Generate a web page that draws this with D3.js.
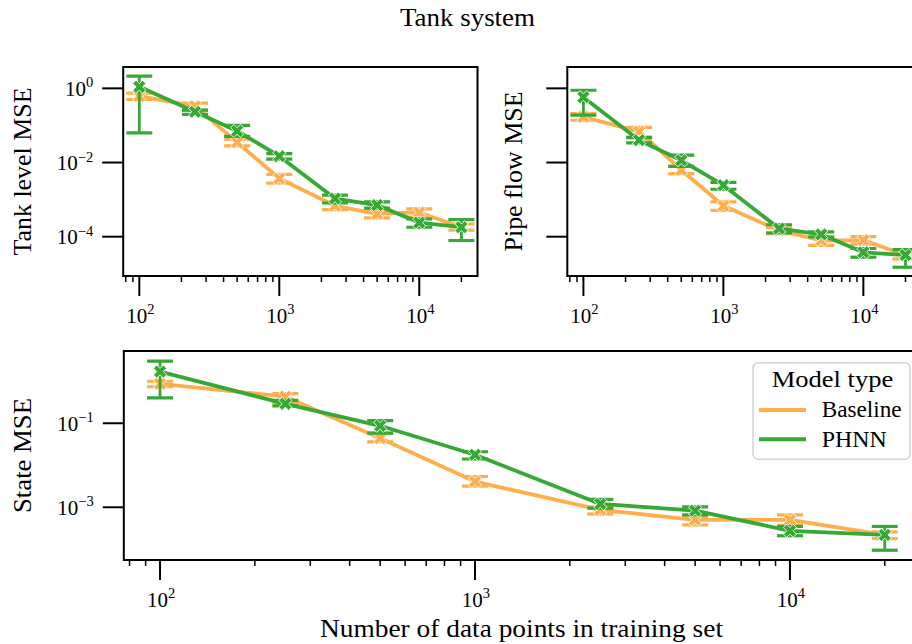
<!DOCTYPE html>
<html><head><meta charset="utf-8">
<script src="https://cdn.jsdelivr.net/npm/d3@7"></script>
<style>
body{margin:0;background:#fff;overflow:hidden;}
svg{display:block;}
text{font-family:"Liberation Serif","DejaVu Serif",serif;fill:#000;}
</style>
</head><body>
<svg id="chart" width="912" height="644"></svg>
<script>
// ---------------- DATA ----------------
const xValues = [100, 250, 500, 1000, 2500, 5000, 10000, 20000];
const seriesNames = ["Baseline", "PHNN"];
const seriesColors = ["#ffae4c", "#36a935"];

const tankBaselineMean = [0.62, 0.33, 0.035, 0.0037, 0.00068, 0.00041, 0.00045, 0.00018];
const tankBaselineLow  = [0.50, 0.26, 0.028, 0.0028, 0.00054, 0.00032, 0.00034, 0.00015];
const tankBaselineHigh = [0.74, 0.40, 0.043, 0.0048, 0.00087, 0.00051, 0.00056, 0.00022];
const tankPhnnMean = [1.1, 0.234, 0.071, 0.0148, 0.00107, 0.00071, 0.00024, 0.00018];
const tankPhnnLow  = [0.063, 0.20, 0.051, 0.0123, 0.00081, 0.00059, 0.00018, 0.000079];
const tankPhnnHigh = [2.15, 0.26, 0.10, 0.0174, 0.00132, 0.00087, 0.00030, 0.00029];

const pipeBaselineMean = [0.17, 0.068, 0.0063, 0.00068, 0.000148, 0.000079, 0.00008, 0.000032];
const pipeBaselineLow  = [0.138, 0.049, 0.005, 0.00051, 0.00012, 0.000058, 0.000063, 0.000025];
const pipeBaselineHigh = [0.21, 0.089, 0.0079, 0.00087, 0.000174, 0.000098, 0.0001, 0.000038];
const pipePhnnMean = [0.58, 0.040, 0.0115, 0.00245, 0.000166, 0.000115, 0.000038, 0.000032];
const pipePhnnLow  = [0.19, 0.034, 0.0079, 0.0019, 0.000126, 0.000098, 0.000028, 0.000015];
const pipePhnnHigh = [0.89, 0.047, 0.0158, 0.0029, 0.00021, 0.000135, 0.000048, 0.000045];

const stateBaselineMean = [0.87, 0.43, 0.044, 0.0041, 0.00087, 0.0005, 0.0005, 0.00022];
const stateBaselineLow  = [0.74, 0.30, 0.036, 0.0032, 0.00069, 0.00038, 0.00037, 0.00018];
const stateBaselineHigh = [1.0, 0.51, 0.058, 0.0054, 0.00102, 0.0006, 0.00066, 0.00026];
const statePhnnMean = [1.7, 0.29, 0.087, 0.0178, 0.0012, 0.00083, 0.000275, 0.00022];
const statePhnnLow  = [0.4, 0.26, 0.058, 0.0141, 0.00095, 0.00066, 0.00021, 0.000095];
const statePhnnHigh = [3.0, 0.35, 0.115, 0.021, 0.00155, 0.00102, 0.00035, 0.00035];

const xTickValues = [100, 1000, 10000];
const topYTickValues = [1, 1e-2, 1e-4];
const bottomYTickValues = [1e-1, 1e-3];

const titleText = "Tank system";
const xLabelText = "Number of data points in training set";
const legendTitle = "Model type";

// ---------------- DRAW ----------------
const svg = d3.select("#chart");
svg.append("rect").attr("width", 912).attr("height", 644).attr("fill", "#fff");

const panels = [
  {x0: 123.2, x1: 477.5, y0: 67, y1: 276, yDomain: [Math.pow(10, -5.06), Math.pow(10, 0.576)],
   yTicks: topYTickValues, yTickLabels: true, ylabel: "Tank level MSE", ylabelX: 31, ylabelLen: 168,
   data: [[tankBaselineMean, tankBaselineLow, tankBaselineHigh], [tankPhnnMean, tankPhnnLow, tankPhnnHigh]]},
  {x0: 567.3, x1: 921.6, y0: 67, y1: 276, yDomain: [Math.pow(10, -5.06), Math.pow(10, 0.576)],
   yTicks: topYTickValues, yTickLabels: false, ylabel: "Pipe flow MSE", ylabelX: 522, ylabelLen: 160,
   data: [[pipeBaselineMean, pipeBaselineLow, pipeBaselineHigh], [pipePhnnMean, pipePhnnLow, pipePhnnHigh]]},
  {x0: 123.8, x1: 921, y0: 351, y1: 560, yDomain: [Math.pow(10, -4.255), Math.pow(10, 0.72)],
   yTicks: bottomYTickValues, yTickLabels: true, ylabel: "State MSE", ylabelX: 31, ylabelLen: 115,
   data: [[stateBaselineMean, stateBaselineLow, stateBaselineHigh], [statePhnnMean, statePhnnLow, statePhnnHigh]]}
];

const xDomain = [Math.pow(10, 2 - 0.05 * Math.log10(200)), Math.pow(10, Math.log10(20000) + 0.05 * Math.log10(200))];

function powLabel(sel, v) {
  const e = Math.round(Math.log10(v));
  sel.append("tspan").text("10").attr("font-size", 21);
  sel.append("tspan").text(e < 0 ? "\u2212" + (-e) : String(e)).attr("font-size", 14.5).attr("dy", -8.5);
}

function xMarker(g, cx, cy, color) {
  const a = 2.3, L = 7;
  const pts = [[-a,-L],[a,-L],[a,-a],[L,-a],[L,a],[a,a],[a,L],[-a,L],[-a,a],[-L,a],[-L,-a],[-a,-a]];
  g.append("path")
    .attr("d", "M" + pts.map(p => p.join(",")).join("L") + "Z")
    .attr("transform", `translate(${cx},${cy}) rotate(45)`)
    .attr("fill", color).attr("stroke", "#fff").attr("stroke-width", 0.8);
}

panels.forEach((p, pi) => {
  const x = d3.scaleLog().domain(xDomain).range([p.x0, p.x1]);
  const y = d3.scaleLog().domain(p.yDomain).range([p.y1, p.y0]);
  const clipId = "clip" + pi;
  svg.append("clipPath").attr("id", clipId).append("rect")
    .attr("x", p.x0).attr("y", p.y0).attr("width", p.x1 - p.x0).attr("height", p.y1 - p.y0);
  const g = svg.append("g").attr("clip-path", `url(#${clipId})`);

  p.data.forEach((s, si) => {
    const [mean, lo, hi] = s;
    const color = seriesColors[si];
    const line = d3.line().x((d, i) => x(xValues[i])).y(d => y(d));
    g.append("path").attr("d", line(mean)).attr("fill", "none")
      .attr("stroke", color).attr("stroke-width", 3.8).attr("stroke-linejoin", "round");
    xValues.forEach((xv, i) => {
      const cx = x(xv);
      g.append("line").attr("x1", cx).attr("x2", cx).attr("y1", y(lo[i])).attr("y2", y(hi[i]))
        .attr("stroke", color).attr("stroke-width", 2.8);
      [lo[i], hi[i]].forEach(v => {
        g.append("line").attr("x1", cx - 13).attr("x2", cx + 13).attr("y1", y(v)).attr("y2", y(v))
          .attr("stroke", color).attr("stroke-width", 3.2);
      });
    });
    xValues.forEach((xv, i) => xMarker(g, x(xv), y(mean[i]), color));
  });

  // frame
  svg.append("rect").attr("x", p.x0).attr("y", p.y0).attr("width", p.x1 - p.x0).attr("height", p.y1 - p.y0)
    .attr("fill", "none").attr("stroke", "#000").attr("stroke-width", 2);

  // x minor ticks
  const minor = [];
  for (let e = 1; e <= 4; e++) for (let m = 2; m <= 9; m++) {
    const v = m * Math.pow(10, e);
    if (v >= xDomain[0] && v <= xDomain[1]) minor.push(v);
  }
  svg.append("g").selectAll("line").data(minor).join("line")
    .attr("x1", d => x(d)).attr("x2", d => x(d)).attr("y1", p.y1).attr("y2", p.y1 + 6)
    .attr("stroke", "#000").attr("stroke-width", 1.5);
  // x major ticks
  const xt = svg.append("g").selectAll("g").data(xTickValues.filter(v => x(v) <= p.x1)).join("g");
  xt.append("line").attr("x1", d => x(d)).attr("x2", d => x(d)).attr("y1", p.y1).attr("y2", p.y1 + 20)
    .attr("stroke", "#000").attr("stroke-width", 2);
  xt.append("text").attr("x", d => x(d) + 1).attr("y", p.y1 + 46.7).attr("text-anchor", "middle")
    .each(function(d) { powLabel(d3.select(this), d); });

  // y ticks
  const yt = svg.append("g").selectAll("g").data(p.yTicks).join("g");
  yt.append("line").attr("x1", p.x0 - 21).attr("x2", p.x0).attr("y1", d => y(d)).attr("y2", d => y(d))
    .attr("stroke", "#000").attr("stroke-width", 2);
  if (p.yTickLabels) {
    yt.append("text").attr("x", p.x0 - 30).attr("y", d => y(d) + 7.5).attr("text-anchor", "end")
      .each(function(d) { powLabel(d3.select(this), d); });
  }

  // y label
  svg.append("text").attr("transform", `translate(${p.ylabelX},${(p.y0 + p.y1) / 2}) rotate(-90)`)
    .attr("text-anchor", "middle").attr("font-size", 24.5)
    .attr("textLength", p.ylabelLen).attr("lengthAdjust", "spacingAndGlyphs").text(p.ylabel);
});

// title and x label
svg.append("text").attr("x", 467.5).attr("y", 25.7).attr("text-anchor", "middle").attr("font-size", 24.5)
  .attr("textLength", 135).attr("lengthAdjust", "spacingAndGlyphs").text(titleText);
svg.append("text").attr("x", 521.5).attr("y", 636.7).attr("text-anchor", "middle").attr("font-size", 24.5)
  .attr("textLength", 403).attr("lengthAdjust", "spacingAndGlyphs").text(xLabelText);

// legend
const lg = svg.append("g");
lg.append("rect").attr("x", 753).attr("y", 362.7).attr("width", 157).attr("height", 96.6).attr("rx", 5)
  .attr("fill", "#fff").attr("fill-opacity", 0.8).attr("stroke", "#d4d4d4").attr("stroke-width", 1.5);
lg.append("text").attr("x", 832.5).attr("y", 386.7).attr("text-anchor", "middle").attr("font-size", 23)
  .attr("textLength", 121.7).attr("lengthAdjust", "spacingAndGlyphs").text(legendTitle);
const entryY = [410, 439.3];
const entryLen = [80, 65];
seriesNames.forEach((n, i) => {
  lg.append("line").attr("x1", 759).attr("x2", 806).attr("y1", entryY[i]).attr("y2", entryY[i])
    .attr("stroke", seriesColors[i]).attr("stroke-width", 4);
  lg.append("text").attr("x", 821.7).attr("y", entryY[i] + 7.4).attr("font-size", 22.5)
    .attr("textLength", entryLen[i]).attr("lengthAdjust", "spacingAndGlyphs").text(n);
});
</script>
</body></html>
